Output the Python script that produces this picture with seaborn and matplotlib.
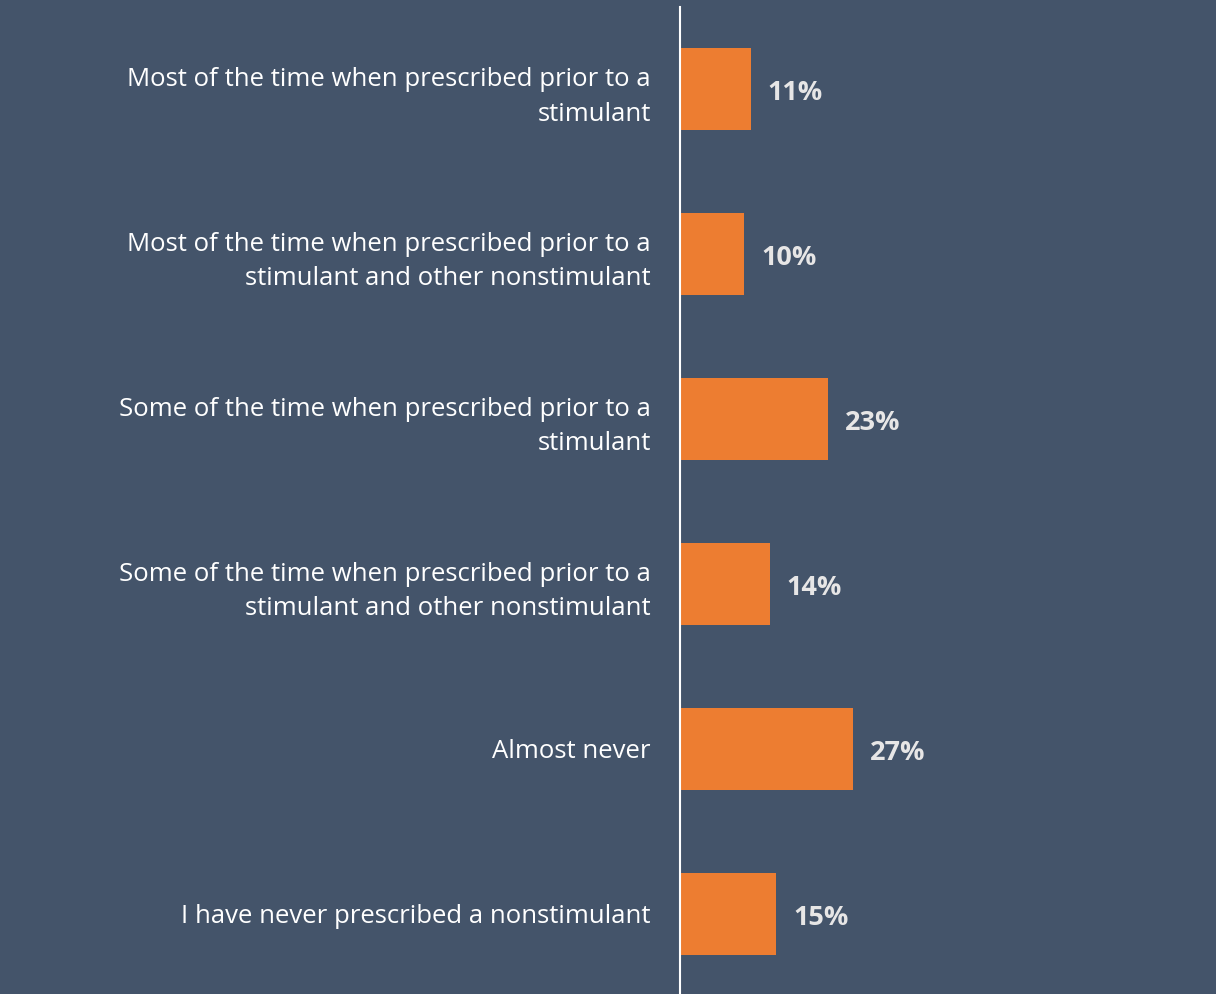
import matplotlib
matplotlib.use("Agg")
import matplotlib.pyplot as plt
import seaborn as sns
import pandas as pd

categories = [
    "Most of the time when prescribed prior to a\nstimulant",
    "Most of the time when prescribed prior to a\nstimulant and other nonstimulant",
    "Some of the time when prescribed prior to a\nstimulant",
    "Some of the time when prescribed prior to a\nstimulant and other nonstimulant",
    "Almost never",
    "I have never prescribed a nonstimulant",
]
values = [11, 10, 23, 14, 27, 15]
value_labels = ["11%", "10%", "23%", "14%", "27%", "15%"]

BG = "#44546A"
BAR = "#ED7D31"

sns.set_theme(style="white")
plt.rcParams["font.family"] = ["Open Sans", "DejaVu Sans"]

df = pd.DataFrame({"category": categories, "value": values})

fig = plt.figure(figsize=(12.16, 9.94), dpi=100, facecolor=BG)
ax = fig.add_axes([680 / 1216, 0, 536 / 1216, 987 / 994])
ax.set_facecolor(BG)

sns.barplot(data=df, x="value", y="category", color=BAR, width=0.5,
            saturation=1, linewidth=0, ax=ax, orient="h")

ax.set_xlim(0, 83.5)
ax.set_ylim(5.485, -0.497)

for i, (v, lab) in enumerate(zip(values, value_labels)):
    ax.annotate(lab, xy=(v, i), xytext=(17, -4), textcoords="offset pixels",
                ha="left", va="center", fontsize=19.5, fontweight="bold",
                color="#E7E6E6")

ax.set_xlabel("")
ax.set_ylabel("")
ax.set_xticks([])
ax.tick_params(axis="y", length=0, pad=21, labelsize=18.5, labelcolor="white")
for lbl in ax.get_yticklabels():
    lbl.set_horizontalalignment("right")
    lbl.set_linespacing(1.5)

for side in ["top", "right", "bottom"]:
    ax.spines[side].set_visible(False)
ax.spines["left"].set_color("white")
ax.spines["left"].set_linewidth(1.5)

fig.savefig("out.png", dpi=100, facecolor=BG)
